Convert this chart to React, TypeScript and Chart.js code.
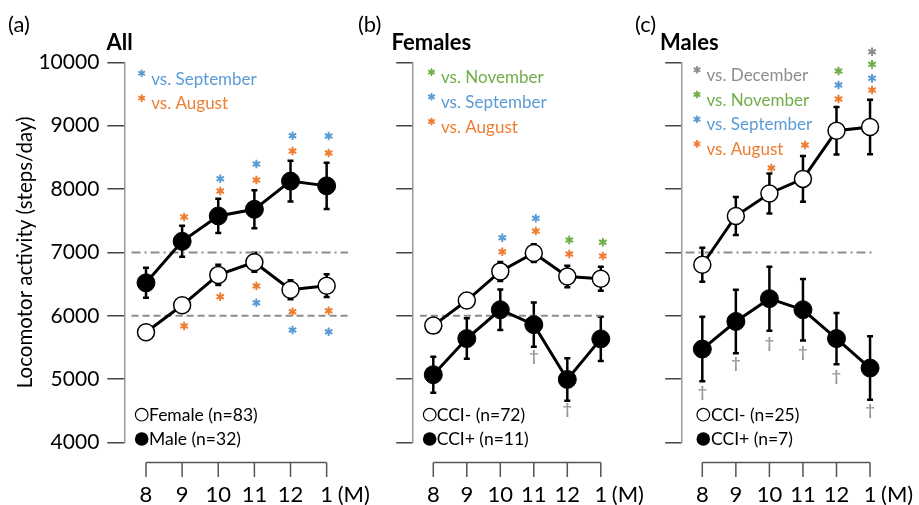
import React, { useEffect, useRef } from 'react';
import { Chart, registerables } from 'chart.js';

Chart.register(...registerables);
Chart.defaults.font.family = 'Lato';

// ---------- data ----------
const months = ['8', '9', '10', '11', '12', '1'];
const yMin = 4000;
const yMax = 10000;
const yStep = 1000;

// (a) All
const allFemale = [5740, 6165, 6645, 6845, 6410, 6475];
const allFemaleErr = [90, 100, 160, 150, 150, 180];
const allMale = [6520, 7175, 7575, 7680, 8125, 8050];
const allMaleErr = [236, 245, 270, 300, 320, 365];
const allSepStars = [[2, 8163], [3, 8395], [4, 8841], [5, 8837], [3, 6206], [4, 5775], [5, 5748]];
const allAugStars = [[1, 7558], [2, 7969], [3, 8142], [4, 8600], [5, 8568], [1, 5838], [2, 6301], [3, 6470], [4, 6064], [5, 6080]];

// (b) Females
const femNeg = [5845, 6240, 6700, 6990, 6620, 6585];
const femNegErr = [110, 100, 150, 140, 170, 190];
const femPos = [5070, 5640, 6095, 5860, 4995, 5635];
const femPosErr = [285, 320, 320, 350, 335, 350];
const femNovStars = [[4, 7195], [5, 7159]];
const femSepStars = [[2, 7232], [3, 7538]];
const femAugStars = [[2, 7011], [3, 7337], [4, 6975], [5, 6943]];
const femDaggers = [[3, 5354], [4, 4513]];

// (c) Males
const malNeg = [6805, 7575, 7930, 8160, 8920, 8980];
const malNegErr = [270, 300, 315, 360, 375, 430];
const malPos = [5475, 5910, 6270, 6095, 5640, 5175];
const malPosErr = [510, 500, 505, 485, 405, 500];
const malDecStars = [[5, 10167]];
const malNovStars = [[4, 9862], [5, 9968]];
const malSepStars = [[4, 9641], [5, 9747]];
const malAugStars = [[2, 8332], [3, 8695], [4, 9420], [5, 9562]];
const malDaggers = [[0, 4776], [1, 5239], [2, 5554], [3, 5417], [4, 5038], [5, 4502]];

// ---------- styles ----------
const BLUE = '#5B9BD5';
const ORANGE = '#ED7D31';
const GREEN = '#70AD47';
const GRAY = '#8C8C8C';
const DAGGER = '#999999';
const W = 919;
const H = 505;
const TOP = 62.3;
const BOTTOM = 442.5;

type Stars = { color: string; pts: number[][] };
type Panel = {
  tag: string; tagX: number; title: string; titleX: number;
  firstX: number; spacing: number; showY: boolean;
  open: number[]; openErr: number[]; filled: number[]; filledErr: number[];
  openLabel: string; filledLabel: string;
  refs: { y: number; from: number; to: number; dash: number[] }[];
  stars: Stars[]; daggers: number[][];
  legend: { text: string; color: string }[];
  legendX: number; legendBase: number; legendStep: number;
  circleX: number; textX: number;
};

const panels: Panel[] = [
  {
    tag: '(a)', tagX: 8, title: 'All', titleX: 106.5,
    firstX: 146, spacing: 36.13, showY: true,
    open: allFemale, openErr: allFemaleErr, filled: allMale, filledErr: allMaleErr,
    openLabel: 'Female (n=83)', filledLabel: 'Male (n=32)',
    refs: [
      { y: 7000, from: -0.4, to: 5.6, dash: [9, 4, 2, 4] },
      { y: 6000, from: -0.4, to: 5.6, dash: [7, 4] },
    ],
    stars: [{ color: BLUE, pts: allSepStars }, { color: ORANGE, pts: allAugStars }],
    daggers: [],
    legend: [{ text: 'vs. September', color: BLUE }, { text: 'vs. August', color: ORANGE }],
    legendX: 141.7, legendBase: 84.5, legendStep: 24.8,
    circleX: 141.7, textX: 149,
  },
  {
    tag: '(b)', tagX: 358, title: 'Females', titleX: 391.5,
    firstX: 433.3, spacing: 33.5, showY: false,
    open: femNeg, openErr: femNegErr, filled: femPos, filledErr: femPosErr,
    openLabel: 'CCI- (n=72)', filledLabel: 'CCI+ (n=11)',
    refs: [{ y: 6000, from: -0.4, to: 5.0, dash: [7, 4] }],
    stars: [{ color: GREEN, pts: femNovStars }, { color: BLUE, pts: femSepStars }, { color: ORANGE, pts: femAugStars }],
    daggers: femDaggers,
    legend: [
      { text: 'vs. November', color: GREEN },
      { text: 'vs. September', color: BLUE },
      { text: 'vs. August', color: ORANGE },
    ],
    legendX: 431.5, legendBase: 83.3, legendStep: 24.7,
    circleX: 429.7, textX: 436.7,
  },
  {
    tag: '(c)', tagX: 635, title: 'Males', titleX: 660,
    firstX: 702.3, spacing: 33.55, showY: false,
    open: malNeg, openErr: malNegErr, filled: malPos, filledErr: malPosErr,
    openLabel: 'CCI- (n=25)', filledLabel: 'CCI+ (n=7)',
    refs: [{ y: 7000, from: -0.5, to: 5.05, dash: [9, 4, 2, 4] }],
    stars: [
      { color: GRAY, pts: malDecStars }, { color: GREEN, pts: malNovStars },
      { color: BLUE, pts: malSepStars }, { color: ORANGE, pts: malAugStars },
    ],
    daggers: malDaggers,
    legend: [
      { text: 'vs. December', color: GRAY },
      { text: 'vs. November', color: GREEN },
      { text: 'vs. September', color: BLUE },
      { text: 'vs. August', color: ORANGE },
    ],
    legendX: 697, legendBase: 81, legendStep: 24.7,
    circleX: 703.3, textX: 711,
  },
];

function drawCentered(ctx: CanvasRenderingContext2D, txt: string, x: number, y: number) {
  const m = ctx.measureText(txt);
  const asc = m.actualBoundingBoxAscent;
  const desc = m.actualBoundingBoxDescent;
  ctx.fillText(txt, x, y + (asc - desc) / 2);
}

function drawStar(ctx: CanvasRenderingContext2D, x: number, y: number, r: number, lw: number) {
  ctx.lineWidth = lw;
  ctx.beginPath();
  for (let k = 0; k < 3; k++) {
    const a = Math.PI / 2 + (k * Math.PI) / 3;
    ctx.moveTo(x + r * Math.cos(a), y + r * Math.sin(a));
    ctx.lineTo(x - r * Math.cos(a), y - r * Math.sin(a));
  }
  ctx.stroke();
}

function makePlugin(p: Panel) {
  return {
    id: 'panelDecor',
    beforeDatasetsDraw(chart: any) {
      const ctx: CanvasRenderingContext2D = chart.ctx;
      const xs = chart.scales.x;
      const ys = chart.scales.y;
      ctx.save();
      ctx.strokeStyle = '#000';
      ctx.lineWidth = 2.5;
      chart.data.datasets.forEach((ds: any) => {
        if (!ds.errors) return;
        ds.data.forEach((pt: any, j: number) => {
          const e = ds.errors[j];
          const px = xs.getPixelForValue(pt.x);
          const t = ys.getPixelForValue(pt.y + e);
          const b = ys.getPixelForValue(pt.y - e);
          ctx.beginPath();
          ctx.moveTo(px, t); ctx.lineTo(px, b);
          ctx.moveTo(px - 3, t); ctx.lineTo(px + 3, t);
          ctx.moveTo(px - 3, b); ctx.lineTo(px + 3, b);
          ctx.stroke();
        });
      });
      ctx.restore();
    },
    afterDraw(chart: any) {
      const ctx: CanvasRenderingContext2D = chart.ctx;
      const xs = chart.scales.x;
      const ys = chart.scales.y;
      ctx.save();
      // x axis bracket
      const x0 = xs.getPixelForValue(0);
      const x5 = xs.getPixelForValue(months.length - 1);
      ctx.strokeStyle = '#555';
      ctx.lineWidth = 1.5;
      ctx.beginPath();
      ctx.moveTo(x0, 462.5); ctx.lineTo(x5, 462.5);
      months.forEach((_, i) => {
        const px = xs.getPixelForValue(i);
        ctx.moveTo(px, 462.5); ctx.lineTo(px, 477);
      });
      ctx.stroke();
      ctx.fillStyle = '#000';
      ctx.font = '22px Lato';
      ctx.textAlign = 'center';
      ctx.textBaseline = 'alphabetic';
      months.forEach((m, i) => ctx.fillText(m, xs.getPixelForValue(i), 502));
      ctx.textAlign = 'left';
      ctx.fillText('(M)', x5 + 11, 502);

      // significance stars
      p.stars.forEach((s) => {
        ctx.strokeStyle = s.color;
        s.pts.forEach(([i, v]) => drawStar(ctx, xs.getPixelForValue(i) + 2, ys.getPixelForValue(v), 4.3, 2));
      });
      // daggers
      ctx.textAlign = 'center';
      ctx.fillStyle = DAGGER;
      ctx.font = 'bold 16px Lato';
      p.daggers.forEach(([i, v]) => drawCentered(ctx, '\u2020', xs.getPixelForValue(i), ys.getPixelForValue(v)));

      // top legend
      ctx.textAlign = 'left';
      ctx.font = '17px Lato';
      p.legend.forEach((l, k) => {
        const base = p.legendBase + k * p.legendStep;
        ctx.strokeStyle = l.color;
        drawStar(ctx, p.legendX, base - 11.2, 3.8, 1.8);
        ctx.fillStyle = l.color;
        ctx.fillText(l.text, p.legendX + 9.5, base);
      });

      // bottom legend
      ctx.fillStyle = '#fff';
      ctx.strokeStyle = '#000';
      ctx.lineWidth = 1.2;
      ctx.beginPath(); ctx.arc(p.circleX, 414.7, 6.3, 0, Math.PI * 2); ctx.fill(); ctx.stroke();
      ctx.fillStyle = '#000';
      ctx.beginPath(); ctx.arc(p.circleX, 439, 6.8, 0, Math.PI * 2); ctx.fill();
      ctx.font = '17.5px Lato';
      ctx.fillText(p.openLabel, p.textX, 420.5);
      ctx.fillText(p.filledLabel, p.textX, 445);

      // panel tag + title
      ctx.font = '22px Lato';
      ctx.fillText(p.tag, p.tagX, 32);
      ctx.font = 'bold 22px Lato';
      ctx.fillText(p.title, p.titleX, 50);
      ctx.restore();
    },
  };
}

function PanelChart({ p }: { p: Panel }) {
  const ref = useRef<HTMLCanvasElement>(null);
  useEffect(() => {
    if (!ref.current) return;
    const left = p.firstX - 0.6 * p.spacing;
    const right = left + 6.2 * p.spacing;
    const chart = new Chart(ref.current, {
      type: 'line',
      data: {
        datasets: [
          {
            label: p.filledLabel,
            data: p.filled.map((v, i) => ({ x: i, y: v })),
            errors: p.filledErr,
            borderColor: '#000', borderWidth: 3,
            pointRadius: 9, pointBackgroundColor: '#000', pointBorderColor: '#000', pointBorderWidth: 1,
            order: 0,
          } as any,
          {
            label: p.openLabel,
            data: p.open.map((v, i) => ({ x: i, y: v })),
            errors: p.openErr,
            borderColor: '#000', borderWidth: 3,
            pointRadius: 8.5, pointBackgroundColor: '#fff', pointBorderColor: '#000', pointBorderWidth: 1.5,
            order: 1,
          } as any,
          ...p.refs.map((r) => ({
            label: 'ref',
            data: [{ x: r.from, y: r.y }, { x: r.to, y: r.y }],
            borderColor: GRAY, borderWidth: 2, borderDash: r.dash,
            pointRadius: 0, order: 5,
          })),
        ],
      },
      options: {
        animation: false,
        responsive: false,
        events: [],
        layout: { padding: { left: 0, right: W - right, top: TOP, bottom: H - BOTTOM } },
        plugins: { legend: { display: false }, tooltip: { enabled: false } },
        scales: {
          x: { type: 'linear', display: false, min: -0.6, max: 5.6 },
          y: {
            type: 'linear', position: 'left', min: yMin, max: yMax,
            afterFit: (s: any) => { s.width = left; },
            border: { color: '#9A9A9A', width: 1.5 },
            grid: { drawOnChartArea: false, tickLength: 17, color: '#444', lineWidth: 1.5 },
            ticks: {
              stepSize: yStep, display: p.showY, font: { family: 'Lato', size: 21 }, color: '#000', padding: 8,
              callback: (v: any) => String(v),
            },
            title: {
              display: p.showY, text: 'Locomotor activity (steps/day)',
              font: { family: 'Lato', size: 20.5 }, color: '#000', padding: { top: 13, bottom: 0 },
            },
          },
        },
      } as any,
      plugins: [makePlugin(p)],
    });
    return () => chart.destroy();
  }, [p]);
  return (
    <canvas ref={ref} width={W} height={H}
      style={{ position: 'absolute', left: 0, top: 0, width: W, height: H }} />
  );
}

export default function App() {
  useEffect(() => { document.body.style.margin = '0'; }, []);
  return (
    <div style={{ position: 'relative', width: W, height: H, background: '#fff' }}>
      {panels.map((p) => <PanelChart key={p.tag} p={p} />)}
    </div>
  );
}
